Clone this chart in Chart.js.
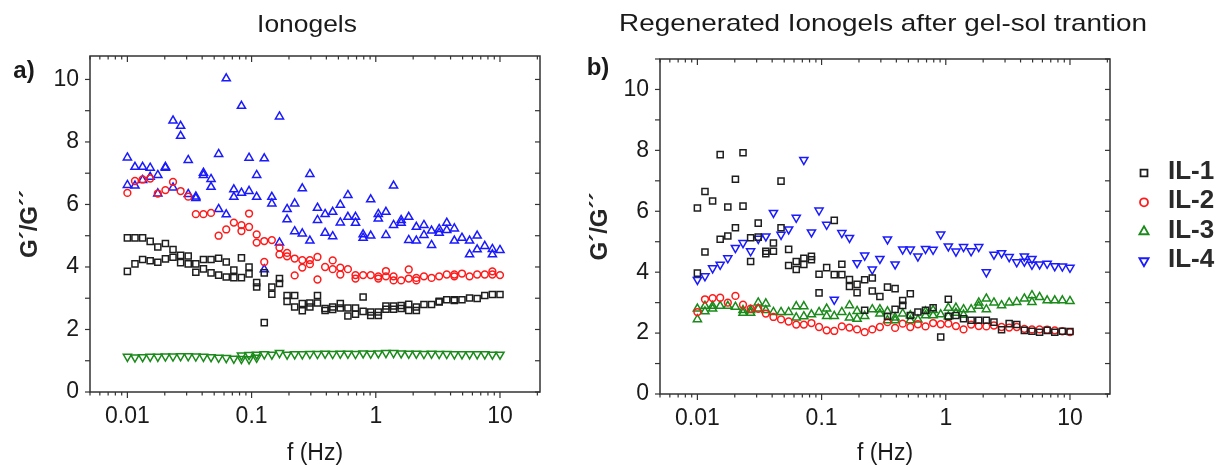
<!DOCTYPE html>
<html>
<head>
<meta charset="utf-8">
<script src="https://cdn.jsdelivr.net/npm/chart.js@4.4.1/dist/chart.umd.min.js"></script>
<style>
html,body{margin:0;padding:0;background:#fff;}
#wrap{position:relative;width:1217px;height:465px;overflow:hidden;background:#fff;}
#pa{position:absolute;left:0;top:0;width:580px;height:465px;}
#pb{position:absolute;left:580px;top:0;width:637px;height:465px;}
</style>
</head>
<body>
<div id="wrap">
  <div id="pa"><canvas id="ca" width="580" height="465"></canvas></div>
  <div id="pb"><canvas id="cb" width="637" height="465"></canvas></div>
</div>
<script>
// ---------------- DATA ----------------
const seriesNames = ['IL-1', 'IL-2', 'IL-3', 'IL-4'];
const panelTitles = ['Ionogels', 'Regenerated Ionogels after gel-sol trantion'];
const panelLetters = ['a)', 'b)'];
const xTitle = 'f (Hz)';
const yTitle = 'G\u00B4/G\u00B4\u00B4';
const xTickValues = [0.01, 0.1, 1, 10];
const xTickLabels = ['0.01', '0.1', '1', '10'];
const yTickValues = [0, 2, 4, 6, 8, 10];
const yTickLabels = ['0', '2', '4', '6', '8', '10'];

// frequency sweep (Hz)
const freq = [0.01, 0.01151, 0.01326, 0.01526, 0.01758, 0.02024, 0.0233, 0.02683, 0.03089, 0.03557,
  0.04095, 0.04715, 0.05429, 0.06251, 0.07197, 0.08286, 0.09541, 0.1099, 0.1265, 0.1456,
  0.1677, 0.1931, 0.2223, 0.256, 0.2947, 0.3393, 0.3907, 0.4498, 0.518, 0.5964,
  0.6866, 0.7906, 0.9103, 1.048, 1.207, 1.39, 1.6, 1.842, 2.121, 2.442,
  2.812, 3.238, 3.728, 4.292, 4.942, 5.69, 6.551, 7.543, 8.685, 10];

// Panel a) Ionogels
const aIL1_run1 = [4.93,4.93,4.93,4.82,4.64,4.75,4.56,4.37,4.35,4.10, 4.24,4.24,4.28,4.16,3.90,4.29,4.00,3.50,3.81,3.36,
  3.63,3.09,3.09,2.83,2.85,3.09,2.67,2.72,2.83,2.69, 2.69,3.04,2.56,2.56,2.75,2.75,2.77,2.81,2.72,2.80,
  2.80,2.90,2.95,2.95,2.95,3.01,2.99,3.09,3.12,3.12];
const aIL1_run2 = [3.86,4.10,4.24,4.20,4.15,4.26,4.31,4.14,4.10,3.83, 3.94,3.81,3.74,3.68,3.66,3.66,3.78,3.36,2.22,3.13,
  3.47,2.90,2.72,2.60,2.72,2.85,2.61,2.64,2.69,2.43, 2.49,2.58,2.45,2.45,2.65,2.65,2.67,2.61,2.61,null,
  null,2.88,null,2.93,null,null,null,null,null,null];
const aIL2_run1 = [6.37,6.75,6.80,6.83,6.35,6.46,6.72,6.43,6.25,5.69, 5.69,5.73,5.00,5.20,5.42,5.34,5.71,5.04,4.83,4.86,
  4.62,4.45,4.27,4.22,4.22,4.32,4.00,4.21,3.98,3.93, 3.74,3.74,3.74,3.70,3.87,3.70,3.57,3.92,3.65,3.70,
  3.65,3.70,3.76,3.76,3.79,3.70,3.76,3.76,3.86,3.74];
const aIL2_run2 = [null,null,null,null,null,null,null,null,null,null, null,null,null,null,null,5.15,5.28,4.78,4.16,null,
  4.40,4.34,3.73,3.98,4.09,3.60,null,3.93,3.76,null, 3.63,null,null,3.63,3.70,3.57,null,3.63,3.57,null,
  null,null,null,3.70,null,null,null,null,3.76,null];
const aIL3_run1 = [1.13,1.11,1.12,1.13,1.13,1.14,1.14,1.15,1.15,1.14, 1.13,1.12,1.10,1.09,1.07,1.06,1.05,1.10,null,null,
  null,null,null,null,null,null,null,null,null,null, null,null,null,null,null,null,null,null,null,null,
  null,null,null,null,null,null,null,null,null,null];
const aIL3_run2 = [null,null,null,null,null,null,null,null,null,null, null,null,null,null,null,1.17,1.19,1.20,1.21,1.20,
  1.25,1.20,1.21,1.21,1.22,1.22,1.23,1.22,1.23,1.23, 1.22,1.24,1.23,1.24,1.25,1.25,1.24,1.23,1.23,1.22,
  1.23,1.22,1.22,1.21,1.21,1.21,1.21,1.21,1.20,1.20];
const aIL4_run1 = [7.50,7.20,7.20,7.17,6.94,7.20,8.68,8.51,7.42,6.25, 7.01,6.81,7.61,10.03,6.48,9.15,7.49,6.94,7.47,6.24,
  8.81,5.85,6.03,6.51,6.97,5.89,5.69,5.76,5.99,6.30, 5.60,5.04,6.16,5.69,5.76,6.60,5.50,5.60,5.28,5.34,
  5.16,5.21,5.41,5.23,4.93,4.84,5.00,4.67,4.57,4.54];
const aIL4_run2 = [6.62,6.60,6.78,6.88,6.35,7.17,6.54,8.19,6.33,6.20, 6.94,6.56,5.85,5.68,6.24,6.37,6.43,6.24,3.92,6.03,
  4.78,5.52,5.14,5.07,4.84,5.50,5.09,4.98,5.42,5.60, 5.41,4.93,5.00,5.55,5.02,5.34,5.41,4.86,4.84,5.02,
  4.70,5.09,5.18,4.84,null,4.40,4.56,null,4.40,null];

// Panel b) Regenerated ionogels
const bIL1_run1 = [6.11,6.65,6.34,7.86,6.14,7.05,7.92,5.13,5.61,4.69, 4.96,6.99,4.75,4.35,4.46,4.52,3.93,4.15,5.70,4.26,
  3.76,3.60,3.75,3.81,3.20,3.51,3.46,3.07,3.29,2.69, 2.75,2.83,1.87,3.11,2.58,2.47,2.42,2.42,2.42,2.36,
  2.11,2.31,2.28,2.09,2.06,2.03,2.09,2.03,2.06,2.05];
const bIL1_run2 = [3.97,4.66,null,5.08,5.19,5.46,6.17,4.35,5.15,4.61, 4.69,5.46,4.22,4.09,4.25,4.41,3.32,null,3.92,3.92,
  3.53,3.33,2.75,3.38,null,2.55,2.78,2.91,2.58,null, null,null,null,2.55,null,null,null,null,null,null,
  null,null,null,null,null,null,null,null,null,null];
const bIL2_run1 = [2.69,3.11,3.15,3.16,3.00,3.22,2.93,2.80,2.80,2.64, 2.53,2.45,2.38,2.28,2.28,2.33,2.20,2.09,2.07,2.22,
  2.18,2.12,2.03,2.12,2.20,2.36,2.17,2.31,2.20,2.29, 2.22,2.33,2.29,2.31,2.23,2.12,2.28,2.23,2.22,2.25,
  2.20,2.18,2.20,2.14,2.12,2.12,2.11,2.09,2.06,2.03];
const bIL3_run1 = [2.80,2.89,2.89,2.89,2.89,2.86,2.75,2.66,3.00,2.97, 2.69,2.69,2.69,2.88,2.88,2.61,2.69,2.80,2.56,2.69,
  2.91,2.72,2.56,2.78,2.78,2.71,2.51,2.64,2.58,2.44, 2.71,2.75,2.61,2.83,2.83,2.78,2.78,3.00,3.13,3.00,
  2.91,3.00,3.02,3.13,3.24,3.18,3.07,3.07,3.07,3.05];
const bIL3_run2 = [2.45,2.71,2.80,null,null,null,2.66,2.75,2.80,2.75, null,null,null,2.51,2.55,null,null,2.56,null,null,
  2.51,2.47,null,null,2.64,2.42,2.42,null,2.42,null, 2.58,2.58,null,2.55,2.66,2.60,null,2.89,2.78,null,
  null,null,null,null,3.02,null,null,null,null,null];
const bIL4_run1 = [3.75,3.87,4.13,4.25,4.46,4.80,4.96,4.69,5.10,5.18, 5.95,5.23,5.41,5.79,7.69,5.31,6.03,5.56,3.10,5.29,
  5.13,4.30,4.55,4.09,4.44,5.08,4.26,4.75,4.75,4.52, 4.77,4.74,5.24,4.85,4.68,4.83,4.69,4.83,4.00,4.58,
  4.63,4.50,4.33,4.52,4.44,4.26,4.28,4.20,4.19,4.15];
const bIL4_run2 = [null,null,null,null,null,null,null,null,null,null, null,null,null,null,null,null,null,null,null,null,
  null,null,null,null,null,null,null,null,null,null, null,null,null,null,null,null,null,null,null,null,
  null,null,null,4.35,4.25,null,null,null,null,null];

// ---------------- BUILD ----------------
function pts(r1, r2) {
  const out = [];
  freq.forEach((f, i) => {
    if (r1 && r1[i] != null) out.push({x: f, y: r1[i]});
    if (r2 && r2[i] != null) out.push({x: f, y: r2[i]});
  });
  return out;
}

const COLORS = ['#1e1e1e', '#ff1a1a', '#1a8a1a', '#1a1aff'];
const STYLES = ['rect', 'circle', 'triangle', 'triangle'];
const RADII = [4.3, 3.4, 4.7, 4.7];

function ds(idx, data, rotation) {
  return {
    label: seriesNames[idx],
    data: data,
    pointStyle: STYLES[idx],
    pointRadius: RADII[idx],
    pointRotation: rotation || 0,
    pointBorderWidth: 1.5,
    borderColor: COLORS[idx],
    backgroundColor: 'rgba(0,0,0,0)',
    pointBorderColor: COLORS[idx],
    pointBackgroundColor: 'rgba(0,0,0,0)',
    showLine: false
  };
}

const frameTicks = {
  id: 'frameTicks',
  afterDatasetsDraw(chart) {
    const {ctx, chartArea: a, scales: {x, y}} = chart;
    ctx.save();
    ctx.strokeStyle = '#333';
    const line = (x1, y1, x2, y2) => { ctx.beginPath(); ctx.moveTo(x1, y1); ctx.lineTo(x2, y2); ctx.stroke(); };
    ctx.lineWidth = 1.2;
    for (let d = -3; d <= 2; d++) {
      for (let m = 1; m <= 9; m++) {
        const v = m * Math.pow(10, d);
        if (v < x.min * 0.999 || v > x.max * 1.001) continue;
        const px = x.getPixelForValue(v);
        const L = m === 1 ? 6 : 3.5;
        line(px, a.bottom, px, a.bottom + L);
        line(px, a.top, px, a.top + L);
      }
    }
    for (let v = 0; v <= y.max + 1e-9; v += 1) {
      const py = y.getPixelForValue(v);
      const L = 5;
      line(a.left - L, py, a.left, py);
      line(a.right - L, py, a.right, py);
    }
    ctx.lineWidth = 1.5;
    ctx.strokeRect(a.left, a.top, a.right - a.left, a.bottom - a.top);
    ctx.restore();
  }
};

function drawMarker(ctx, style, rot, r, x, y) {
  ctx.beginPath();
  if (style === 'rect') {
    const s = r * Math.SQRT1_2;
    ctx.rect(x - s, y - s, 2 * s, 2 * s);
  } else if (style === 'circle') {
    ctx.arc(x, y, r, 0, Math.PI * 2);
  } else {
    let ang = rot * Math.PI / 180;
    ctx.moveTo(x + Math.sin(ang) * r, y - Math.cos(ang) * r);
    for (let k = 0; k < 2; k++) {
      ang += Math.PI * 2 / 3;
      ctx.lineTo(x + Math.sin(ang) * r, y - Math.cos(ang) * r);
    }
    ctx.closePath();
  }
  ctx.stroke();
}

const annot = {
  id: 'annot',
  afterDraw(chart, args, o) {
    const ctx = chart.ctx;
    ctx.save();
    ctx.fillStyle = '#1a1a1a';
    (o.texts || []).forEach(t => {
      ctx.save();
      ctx.font = t.font;
      ctx.textAlign = t.align || 'center';
      ctx.textBaseline = 'middle';
      ctx.translate(t.x, t.y);
      ctx.scale(t.sx || 1, 1);
      ctx.fillText(t.text, 0, 0);
      ctx.restore();
    });
    if (o.legend) {
      const L = o.legend;
      chart.data.datasets.forEach((d, i) => {
        const yy = L.y + i * L.step;
        ctx.strokeStyle = d.borderColor;
        ctx.lineWidth = 1.8;
        drawMarker(ctx, d.pointStyle, d.pointRotation, d.pointRadius + 0.6, L.markerX, yy);
        ctx.fillStyle = '#2a2a2a';
        ctx.font = L.font;
        ctx.textAlign = 'left';
        ctx.textBaseline = 'middle';
        ctx.fillText(d.label, L.textX, yy - 1);
      });
    }
    ctx.restore();
  }
};

const FONT = '"Liberation Sans", Arial, sans-serif';

function makeChart(canvasId, datasets, cfg) {
  return new Chart(document.getElementById(canvasId), {
    type: 'scatter',
    data: {datasets: datasets},
    plugins: [frameTicks, annot],
    options: {
      responsive: false,
      animation: false,
      events: [],
      layout: {padding: cfg.padding},
      plugins: {
        legend: {display: false},
        tooltip: {enabled: false},
        annot: {texts: cfg.texts, legend: cfg.legend}
      },
      scales: {
        x: {
          type: 'logarithmic',
          min: 0.005, max: 21,
          grid: {display: false, drawTicks: false},
          border: {display: false},
          afterBuildTicks: s => { s.ticks = xTickValues.map(v => ({value: v, major: true})); },
          afterFit: s => { s.height = cfg.xHeight; },
          ticks: {
            autoSkip: false, maxRotation: 0, padding: 11,
            color: '#1a1a1a', font: {family: FONT, size: 23},
            callback: (v, i) => xTickLabels[i]
          },
          title: {display: true, text: xTitle, color: '#1a1a1a',
                  font: {family: FONT, size: 23, lineHeight: 1}, padding: {top: 0, bottom: 0}}
        },
        y: {
          type: 'linear',
          min: 0, max: cfg.yMax,
          grid: {display: false, drawTicks: false},
          border: {display: false},
          afterBuildTicks: s => { s.ticks = yTickValues.map(v => ({value: v})); },
          afterFit: s => { s.width = cfg.yWidth; },
          ticks: {
            autoSkip: false, padding: 11,
            color: '#1a1a1a', font: {family: FONT, size: 23},
            callback: (v, i) => yTickLabels[i]
          },
          title: {display: true, text: yTitle, color: '#262626',
                  font: {family: FONT, size: 24, weight: 'bold', lineHeight: 1.2},
                  padding: {top: cfg.yTitlePad, bottom: 0}}
        }
      }
    }
  });
}

makeChart('ca', [
  ds(0, pts(aIL1_run1, aIL1_run2)),
  ds(1, pts(aIL2_run1, aIL2_run2)),
  ds(2, pts(aIL3_run1, aIL3_run2), 180),
  ds(3, pts(aIL4_run1, aIL4_run2), 0)
], {
  padding: {top: 56, right: 40, left: 0, bottom: 0},
  xHeight: 73, yWidth: 90, yMax: 10.75, yTitlePad: 16,
  texts: [
    {text: panelTitles[0], x: 307, y: 25, font: '24px ' + FONT, sx: 1.1},
    {text: panelLetters[0], x: 24, y: 71, font: 'bold 24px ' + FONT}
  ]
});

makeChart('cb', [
  ds(0, pts(bIL1_run1, bIL1_run2)),
  ds(1, pts(bIL2_run1)),
  ds(2, pts(bIL3_run1, bIL3_run2), 0),
  ds(3, pts(bIL4_run1, bIL4_run2), 180)
], {
  padding: {top: 59, right: 107, left: 0, bottom: 0},
  xHeight: 71, yWidth: 80, yMax: 11, yTitlePad: 6,
  texts: [
    {text: panelTitles[1], x: 303, y: 24, font: '24px ' + FONT, sx: 1.16},
    {text: panelLetters[1], x: 18, y: 68, font: 'bold 24px ' + FONT}
  ],
  legend: {markerX: 564, textX: 588, y: 173, step: 29.3, font: 'bold 26px ' + FONT}
});
</script>
</body>
</html>
